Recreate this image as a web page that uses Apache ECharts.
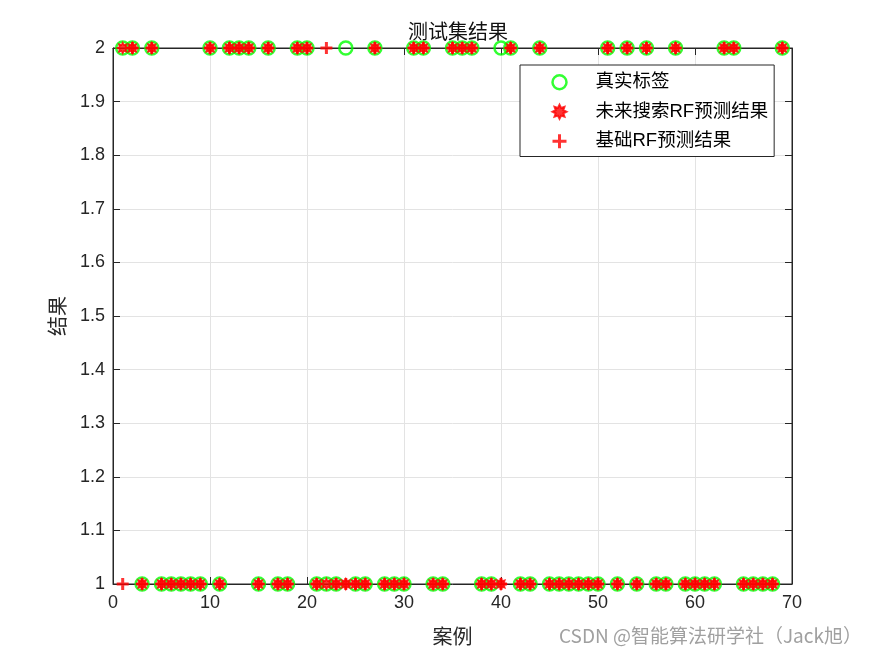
<!DOCTYPE html>
<html>
<head>
<meta charset="utf-8">
<script src="https://cdn.jsdelivr.net/npm/echarts@6/dist/echarts.min.js"></script>
<style>html,body{margin:0;padding:0;background:#fff;}#c{width:875px;height:656px;}</style>
</head>
<body>
<div id="c"></div>
<script>
// case numbers (案例)
const cases = [
  1,2,3,4,5,6,7,8,9,10,
  11,12,13,14,15,16,17,18,19,20,
  21,22,23,24,25,26,27,28,29,30,
  31,32,33,34,35,36,37,38,39,40,
  41,42,43,44,45,46,47,48,49,50,
  51,52,53,54,55,56,57,58,59,60,
  61,62,63,64,65,66,67,68,69
];
// 真实标签
const trueLabel = [
  2,2,1,2,1,1,1,1,1,2,
  1,2,2,2,1,2,1,1,2,2,
  1,1,1,2,1,1,2,1,1,1,
  2,2,1,1,2,2,2,1,1,2,
  2,1,1,2,1,1,1,1,1,1,
  2,1,2,1,2,1,1,2,1,1,
  1,1,2,2,1,1,1,1,2
];
// 未来搜索RF预测结果
const futureRF = [
  2,2,1,2,1,1,1,1,1,2,
  1,2,2,2,1,2,1,1,2,2,
  1,1,1,1,1,1,2,1,1,1,
  2,2,1,1,2,2,2,1,1,1,
  2,1,1,2,1,1,1,1,1,1,
  2,1,2,1,2,1,1,2,1,1,
  1,1,2,2,1,1,1,1,2
];
// 基础RF预测结果
const basicRF = [
  1,2,1,2,1,1,1,1,1,2,
  1,2,2,2,1,2,1,1,2,2,
  1,2,1,1,1,1,2,1,1,1,
  2,2,1,1,2,2,2,1,1,1,
  2,1,1,2,1,1,1,1,1,1,
  2,1,2,1,2,1,1,2,1,1,
  1,1,2,2,1,1,1,1,2
];
const xTicks = [0,10,20,30,40,50,60,70];
const yTicks = [1,1.1,1.2,1.3,1.4,1.5,1.6,1.7,1.8,1.9,2];
const seriesNames = ['真实标签','未来搜索RF预测结果','基础RF预测结果'];

const pair = (ys) => cases.map((c, i) => [c, ys[i]]);
const ASTER = 'path://M0,-10L2.3,-5.5L7.1,-7.1L5.5,-2.3L10,0L5.5,2.3L7.1,7.1L2.3,5.5L0,10L-2.3,5.5L-7.1,7.1L-5.5,2.3L-10,0L-5.5,-2.3L-7.1,-7.1L-2.3,-5.5Z';
const PLUS = 'path://M0,-10L0,10M-10,0L10,0';
const axisColor = '#262626';
const fontLatin = 'Liberation Sans, Arial, sans-serif';
const fontCJK = '"Liberation Sans", "Noto Sans CJK SC", sans-serif';

const chart = echarts.init(document.getElementById('c'), null, {renderer: 'canvas'});
chart.setOption({
  animation: false,
  backgroundColor: '#fff',
  title: {
    text: '测试集结果',
    left: 453, top: 16, textAlign: 'center',
    textStyle: {fontFamily: '"Noto Sans CJK SC", sans-serif', fontSize: 20, fontWeight: 'normal', color: '#111'}
  },
  grid: {
    left: 113, top: 48, width: 679, height: 536,
    show: true, borderColor: axisColor, borderWidth: 1, backgroundColor: '#fff'
  },
  legend: {
    orient: 'vertical',
    left: 520, top: 65,
    padding: [8, 6, 6, 31],
    itemWidth: 28, itemHeight: 14, itemGap: 11,
    backgroundColor: '#fff', borderColor: axisColor, borderWidth: 1,
    textStyle: {fontFamily: fontCJK, fontSize: 18.5, color: '#000', padding: [0, 0, 0, 17]},
    data: [
      {name: seriesNames[0], icon: 'circle', itemStyle: {borderWidth: 2.5}},
      {name: seriesNames[1], icon: ASTER},
      {name: seriesNames[2], icon: PLUS, itemStyle: {borderWidth: 3}}
    ]
  },
  xAxis: [{
    type: 'value', min: 0, max: 70, interval: 10, position: 'bottom',
    name: '案例', nameLocation: 'middle', nameGap: 44,
    nameTextStyle: {fontFamily: fontCJK, fontSize: 20, color: axisColor},
    axisLine: {show: true, onZero: false, lineStyle: {color: axisColor}},
    axisTick: {show: true, inside: true, length: 7, lineStyle: {color: axisColor}},
    axisLabel: {fontFamily: fontLatin, fontSize: 18, color: axisColor, margin: 10},
    splitLine: {show: true, lineStyle: {color: '#e3e3e3'}}
  }, {
    type: 'value', min: 0, max: 70, interval: 10, position: 'top',
    axisLine: {show: true, onZero: false, lineStyle: {color: axisColor}},
    axisTick: {show: true, inside: true, length: 7, lineStyle: {color: axisColor}},
    axisLabel: {show: false}, splitLine: {show: false}
  }],
  yAxis: [{
    type: 'value', min: 1, max: 2, interval: 0.1, position: 'left',
    name: '结果', nameLocation: 'middle', nameGap: 44, nameRotate: 90,
    nameTextStyle: {fontFamily: fontCJK, fontSize: 20, color: axisColor},
    axisLine: {show: true, onZero: false, lineStyle: {color: axisColor}},
    axisTick: {show: true, inside: true, length: 7, lineStyle: {color: axisColor}},
    axisLabel: {fontFamily: fontLatin, fontSize: 18, color: axisColor, margin: 8,
      formatter: v => (Math.round(v * 10) / 10).toString()},
    splitLine: {show: true, lineStyle: {color: '#e3e3e3'}}
  }, {
    type: 'value', min: 1, max: 2, interval: 0.1, position: 'right',
    axisLine: {show: true, onZero: false, lineStyle: {color: axisColor}},
    axisTick: {show: true, inside: true, length: 7, lineStyle: {color: axisColor}},
    axisLabel: {show: false}, splitLine: {show: false}
  }],
  series: [{
    name: seriesNames[0], type: 'scatter', xAxisIndex: 0, yAxisIndex: 0,
    data: pair(trueLabel), symbol: 'circle', symbolSize: 13, clip: false,
    itemStyle: {color: 'rgba(0,0,0,0)', borderColor: '#00ff00', borderWidth: 2.5}
  }, {
    name: seriesNames[1], type: 'scatter', xAxisIndex: 0, yAxisIndex: 0,
    data: pair(futureRF), symbol: ASTER, symbolSize: 11, clip: false,
    itemStyle: {color: '#ff0000', borderColor: '#ff0000', borderWidth: 1.5}
  }, {
    name: seriesNames[2], type: 'scatter', xAxisIndex: 0, yAxisIndex: 0,
    data: pair(basicRF), symbol: PLUS, symbolSize: 12, clip: false,
    itemStyle: {color: '#ff0000', borderColor: '#ff0000', borderWidth: 3}
  }],
  graphic: [{
    type: 'text', right: 13, top: 626,
    style: {text: 'CSDN @智能算法研学社（Jack旭）', fill: '#a0a0a0',
      font: '19px "Noto Sans CJK SC", sans-serif'}
  }]
});
</script>
</body>
</html>
